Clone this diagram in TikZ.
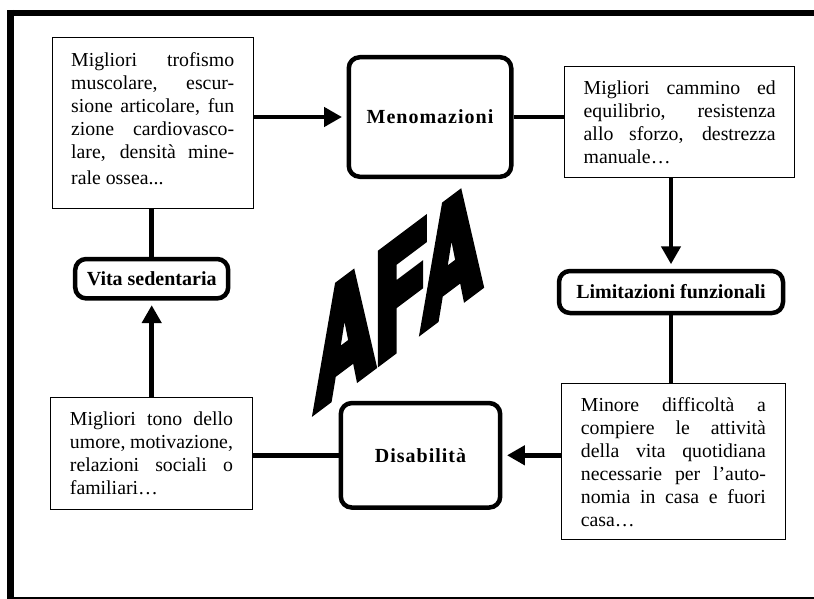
\documentclass[tikz,border=0pt]{standalone}
\usepackage{fontspec}
\setmainfont{Liberation Serif}
\newfontfamily\spacedbf[LetterSpace=5]{Liberation Serif}
\newfontfamily\afafont[FakeBold=6]{texgyreheroscn-bold.otf}
\usetikzlibrary{arrows.meta}
\newcommand{\jl}[1]{\makebox[\linewidth][s]{#1}\\}
\tikzstyle{textbox}=[draw,line width=1.2pt,inner sep=0pt,anchor=north west,font=\fontsize{19.8}{23}\selectfont]
\tikzstyle{labelbox}=[draw,line width=4.5pt,rounded corners=11pt,inner sep=0pt,font=\fontsize{20}{23}\selectfont\bfseries]
\tikzstyle{joint} = [draw,line width=4.5pt]
\tikzstyle{flow} = [draw,line width=4.5pt,-{Triangle[length=18pt,width=19pt]},shorten >=4.5pt]
\tikzstyle{afa}=[inner sep=0pt,yslant=0.75,xscale=0.68,font=\afafont\fontsize{150}{150}\selectfont]

\begin{document}
\begin{tikzpicture}[x=1pt,y=-1pt]
   \useasboundingbox (0,0) rectangle (814,599);

   % frame
   \draw[line width=6pt] (7,13) -- (814,13);
   \draw[line width=6.5pt] (10.7,10) -- (10.7,599);
   \draw[line width=2pt] (10.7,598) -- (814,598);

   \foreach \pos/ \name/ \w/ \h/ \txt in {{(430,117)/meno/162.5/119.5/\spacedbf Menomazioni},{(671,292)/limit/224/42/Limitazioni funzionali},{(420.5,455.3)/disab/159.4/104.5/\spacedbf Disabilità},{(151.7,278.7)/vita/153/39.4/Vita sedentaria}}
        \node[labelbox,minimum width=\w pt,minimum height=\h pt] (\name) at \pos {\txt};

   \node[textbox,minimum width=200.8pt] (trof) at (51.7,36.8) {\parbox[b][171pt][t]{163pt}{\rule{0pt}{29pt}\jl{Migliori trofismo}\jl{muscolare, escur-}\jl{sione articolare, fun}\jl{zione cardiovasco-}\makebox[\linewidth][s]{lare, densità mine-}\\[3pt]rale ossea...}};
   \node[textbox,minimum width=229.8pt] (cammino) at (564.2,65.8) {\parbox[b][111pt][t]{192pt}{\rule{0pt}{28pt}\jl{Migliori cammino ed}\jl{equilibrio, resistenza}\jl{allo sforzo, destrezza}manuale…}};
   \node[textbox,minimum width=224pt] (minore) at (560.8,382.5) {\parbox[b][156.3pt][t]{185pt}{\rule{0pt}{28pt}\jl{Minore difficoltà a}\jl{compiere le attività}\jl{della vita quotidiana}\jl{necessarie per l’auto-}\jl{nomia in casa e fuori}casa…}};
   \node[textbox,minimum width=201.3pt] (tono) at (50.2,396.8) {\parbox[b][111.7pt][t]{163pt}{\rule{0pt}{28.5pt}\jl{Migliori tono dello}\jl{umore, motivazione,}\jl{relazioni sociali o}familiari…}};

   \node[afa] (afa) at (398,294) {AFA};

   % connect boxes
   \path[flow] (trof.east |- meno.west) -- (meno.west);
   \path[joint] (meno.east) -- (meno.east -| cammino.west);
   \path[flow] (cammino.south -| limit.north) -- (limit.north);
   \path[joint] (limit.south) -- (limit.south |- minore.north);
   \path[flow] (minore.west |- disab.east) -- (disab.east);
   \path[joint] (disab.west) -- (disab.west -| tono.east);
   \path[flow] (tono.north -| vita.south) -- (vita.south);
   \path[joint] (vita.north) -- (vita.north |- trof.south);

\end{tikzpicture}
\end{document}
